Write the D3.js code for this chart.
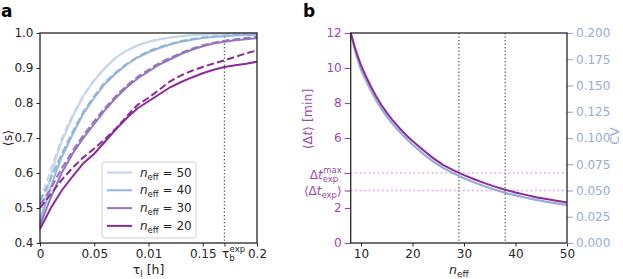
<!DOCTYPE html>
<html><head><meta charset="utf-8">
<script src="https://cdn.jsdelivr.net/npm/d3@7"></script>
<style>
body{margin:0;background:#fff;}
svg{font-family:"DejaVu Sans",sans-serif;}
</style></head>
<body><svg id="c" width="623" height="279"></svg>
<script>
// ---------- Panel a data ----------
const tau = [0,0.005,0.01,0.015,0.02,0.03,0.04,0.05,0.06,0.07,0.08,0.09,0.1,0.11,0.12,0.13,0.14,0.15,0.16,0.17,0.18,0.19,0.2];
const s50 = [0.46,0.53,0.59,0.645,0.69,0.76,0.82,0.865,0.90,0.93,0.95,0.965,0.975,0.982,0.987,0.991,0.994,0.996,0.997,0.998,0.999,0.999,1.0];
const s50d = [0.52,0.565,0.61,0.655,0.698,0.765,0.822,0.866,0.901,0.93,0.95,0.965,0.975,0.982,0.987,0.991,0.994,0.996,0.997,0.998,0.999,0.999,1.0];
const s40 = [0.455,0.51,0.56,0.605,0.645,0.71,0.77,0.815,0.855,0.885,0.91,0.93,0.945,0.957,0.967,0.975,0.981,0.986,0.989,0.991,0.993,0.994,0.995];
const s40d = [0.52,0.55,0.585,0.62,0.655,0.717,0.775,0.82,0.86,0.888,0.912,0.932,0.948,0.96,0.969,0.977,0.983,0.987,0.99,0.992,0.994,0.995,0.996];
const s30 = [0.45,0.49,0.53,0.565,0.60,0.655,0.70,0.74,0.78,0.815,0.845,0.87,0.89,0.91,0.925,0.94,0.952,0.962,0.97,0.975,0.979,0.982,0.985];
const s30d = [0.51,0.53,0.555,0.585,0.613,0.663,0.708,0.748,0.786,0.82,0.85,0.875,0.895,0.914,0.929,0.943,0.955,0.965,0.972,0.978,0.982,0.986,0.989];
const s20 = [0.44,0.47,0.50,0.525,0.55,0.59,0.628,0.655,0.69,0.725,0.757,0.785,0.805,0.825,0.845,0.86,0.873,0.885,0.895,0.903,0.908,0.912,0.918];
const s20d = [0.50,0.52,0.54,0.56,0.58,0.615,0.645,0.67,0.697,0.727,0.762,0.795,0.815,0.838,0.862,0.879,0.892,0.903,0.913,0.922,0.932,0.942,0.95];
const neffLabels = [50,40,30,20];
const colorsA = ["#c3d5e8","#93b3d9","#9475c0","#8b2b98"];
const xTicksA = [0,0.05,0.1,0.15,0.17,0.2];
const xTickLabelsA = ["0","0.05","0.01","0.15","τb","0.2"];
const yTicksA = [0.4,0.5,0.6,0.7,0.8,0.9,1.0];
const tauBexp = 0.17;

// ---------- Panel b data ----------
const neff = [8,9,10,11,12,13,14,15,16,17,18,19,20,22,24,26,28,30,32,34,36,38,40,42,44,46,48,50];
const dt = [12.0,11.0,10.15,9.5,8.9,8.35,7.87,7.45,7.07,6.72,6.4,6.1,5.83,5.33,4.85,4.45,4.15,3.88,3.64,3.42,3.22,3.04,2.89,2.75,2.62,2.51,2.41,2.32];
const cv = [0.2,0.18,0.1650,0.1545,0.1445,0.1355,0.1275,0.1205,0.1143,0.1085,0.1033,0.0983,0.0938,0.0853,0.0776,0.0713,0.0662,0.0617,0.0577,0.0540,0.0507,0.0477,0.0453,0.0431,0.0411,0.0393,0.0377,0.0361];
const xTicksB = [10,20,30,40,50];
const yTicksBLeft = [0,2,3,4,6,8,10,12];
const yTicksBRight = [0,0.025,0.05,0.075,0.1,0.125,0.15,0.175,0.2];
const dtExp = 3, dtExpMax = 4;
const nMarks = [29,38];

const svg = d3.select("#c");
const axisCol = "#262626";
const fs = 12;

// ================= Panel a =================
const A = {l:40,r:257,t:33,b:243};
const xa = d3.scaleLinear().domain([0,0.2]).range([A.l,A.r]);
const ya = d3.scaleLinear().domain([0.4,1.0]).range([A.b,A.t]);
const ga = svg.append("g");

ga.append("line").attr("x1",xa(tauBexp)).attr("x2",xa(tauBexp)).attr("y1",A.t).attr("y2",A.b)
  .attr("stroke","#555").attr("stroke-width",1.3).attr("stroke-dasharray","1.3,2.2");

const lineA = ys => d3.line().x((d,i)=>xa(tau[i])).y(d=>ya(d))(ys);
const solids = [s50,s40,s30,s20], dashes=[s50d,s40d,s30d,s20d];
[0,1,2,3].forEach(i=>{
  ga.append("path").attr("d",lineA(dashes[i])).attr("fill","none").attr("stroke",colorsA[i])
    .attr("stroke-width",2).attr("stroke-dasharray","7.4,3.2");
  ga.append("path").attr("d",lineA(solids[i])).attr("fill","none").attr("stroke",colorsA[i])
    .attr("stroke-width",2);
});

// axes a
const axA_b = ga.append("g").attr("transform",`translate(0,${A.b})`)
  .call(d3.axisBottom(xa).tickValues(xTicksA).tickSize(3.5).tickFormat((d,i)=>xTickLabelsA[i]));
const axA_l = ga.append("g").attr("transform",`translate(${A.l},0)`)
  .call(d3.axisLeft(ya).tickValues(yTicksA).tickSize(3.5).tickFormat(d3.format(".1f")));
[axA_b,axA_l].forEach(a=>{
  a.select(".domain").remove();
  a.selectAll(".tick line").attr("stroke",axisCol).attr("stroke-width",1);
  a.selectAll(".tick text").attr("fill",axisCol).attr("font-size",fs).attr("font-family","DejaVu Sans");
});
axA_b.selectAll(".tick text").attr("dy","0.71em");
// tau_b^exp label with sub/sup
axA_b.selectAll(".tick text").filter((d,i)=>i===4).each(function(){
  const t=d3.select(this); t.text("").attr("text-anchor","start").attr("x",-3);
  t.append("tspan").text("τ");
  t.append("tspan").attr("font-size",8.5).attr("dy",3).text("b");
  t.append("tspan").attr("font-size",8.5).attr("dx",-5).attr("dy",-9).text("exp");
});
ga.append("rect").attr("x",A.l).attr("y",A.t).attr("width",A.r-A.l).attr("height",A.b-A.t)
  .attr("fill","none").attr("stroke",axisCol).attr("stroke-width",1.3);

// labels a
const xl = ga.append("text").attr("x",(A.l+A.r)/2).attr("y",274).attr("text-anchor","middle")
  .attr("font-size",12.5).attr("fill",axisCol);
xl.append("tspan").text("τ");
xl.append("tspan").attr("font-size",9).attr("dy",3).text("l");
xl.append("tspan").attr("dy",-3).text(" [h]");
ga.append("text").attr("transform",`translate(12,${(A.t+A.b)/2}) rotate(-90)`).attr("text-anchor","middle")
  .attr("font-size",12.5).attr("fill",axisCol).text("⟨s⟩");
svg.append("text").attr("x",1).attr("y",17).attr("font-size",17).attr("font-weight","bold")
  .attr("fill","#000").text("a");

// legend
const lg = ga.append("g");
lg.append("rect").attr("x",102).attr("y",162).attr("width",94).attr("height",76).attr("rx",3)
  .attr("fill","#fff").attr("fill-opacity",0.85).attr("stroke","#d0d0d0").attr("stroke-width",1);
neffLabels.forEach((n,i)=>{
  const y = 172.5 + i*17.8;
  lg.append("line").attr("x1",107).attr("x2",132).attr("y1",y).attr("y2",y)
    .attr("stroke",colorsA[i]).attr("stroke-width",2);
  const t = lg.append("text").attr("x",140).attr("y",y+4).attr("font-size",fs).attr("fill",axisCol);
  t.append("tspan").attr("font-style","italic").text("n");
  t.append("tspan").attr("font-size",8.5).attr("dy",3).text("eff");
  t.append("tspan").attr("dy",-3).text(" = "+n);
});

// ================= Panel b =================
const B = {l:350.7,r:567,t:33,b:243};
const xb = d3.scaleLinear().domain([8,50]).range([B.l,B.r]);
const yb = d3.scaleLinear().domain([0,12]).range([B.b,B.t]);
const yb2 = d3.scaleLinear().domain([0,0.2]).range([B.b,B.t]);
const gb = svg.append("g");
const purp = "#8b2b98", purpTxt="#9a47ab", cvCol="#97abd9", pink="#d79be0";

nMarks.forEach(n=>{
  gb.append("line").attr("x1",xb(n)).attr("x2",xb(n)).attr("y1",B.t).attr("y2",B.b)
    .attr("stroke","#555").attr("stroke-width",1.3).attr("stroke-dasharray","1.3,2.2");
});
[dtExpMax,dtExp].forEach(v=>{
  gb.append("line").attr("x1",B.l).attr("x2",B.r).attr("y1",yb(v)).attr("y2",yb(v))
    .attr("stroke",pink).attr("stroke-width",1.5).attr("stroke-dasharray","1.5,3");
});
gb.append("path").attr("d",d3.line().x((d,i)=>xb(neff[i])).y(d=>yb2(d))(cv))
  .attr("fill","none").attr("stroke",cvCol).attr("stroke-width",2.2);
gb.append("path").attr("d",d3.line().x((d,i)=>xb(neff[i])).y(d=>yb(d))(dt))
  .attr("fill","none").attr("stroke",purp).attr("stroke-width",2);

const axB_b = gb.append("g").attr("transform",`translate(0,${B.b})`)
  .call(d3.axisBottom(xb).tickValues(xTicksB).tickSize(3.5));
const axB_l = gb.append("g").attr("transform",`translate(${B.l},0)`)
  .call(d3.axisLeft(yb).tickValues(yTicksBLeft).tickSize(6).tickFormat(d3.format("d")));
const axB_r = gb.append("g").attr("transform",`translate(${B.r},0)`)
  .call(d3.axisRight(yb2).tickValues(yTicksBRight).tickSize(6).tickFormat(d3.format(".3f")));
[axB_b,axB_l,axB_r].forEach(a=>{
  a.select(".domain").remove();
  a.selectAll(".tick text").attr("font-size",fs).attr("font-family","DejaVu Sans");
});
axB_b.selectAll(".tick line").attr("stroke",axisCol);
axB_b.selectAll(".tick text").attr("fill",axisCol).attr("dy","0.71em");
axB_l.selectAll(".tick line").attr("stroke",purpTxt).attr("stroke-width",1.2);
axB_l.selectAll(".tick text").attr("fill",purpTxt).attr("x",-9);
axB_r.selectAll(".tick line").attr("stroke",cvCol).attr("stroke-width",1.2);
axB_r.selectAll(".tick text").attr("fill",cvCol).attr("x",9);
// special tick labels
axB_l.selectAll(".tick text").filter(d=>d===dtExpMax).each(function(){
  const t=d3.select(this); t.text("");
  t.append("tspan").text("Δ");
  t.append("tspan").attr("font-style","italic").text("t");
  t.append("tspan").attr("font-size",8.5).attr("dy",3).text("exp");
  t.append("tspan").attr("font-size",8.5).attr("dx",-15).attr("dy",-9).text("max");
}).attr("dy","0.45em");
axB_l.selectAll(".tick text").filter(d=>d===dtExp).each(function(){
  const t=d3.select(this); t.text("");
  t.append("tspan").text("⟨Δ");
  t.append("tspan").attr("font-style","italic").text("t");
  t.append("tspan").attr("font-size",8.5).attr("dy",3).text("exp");
  t.append("tspan").attr("dy",-3).text("⟩");
}).attr("dy","0.3em");

gb.append("rect").attr("x",B.l).attr("y",B.t).attr("width",B.r-B.l).attr("height",B.b-B.t)
  .attr("fill","none").attr("stroke",axisCol).attr("stroke-width",1.3);

const xlb = gb.append("text").attr("x",(B.l+B.r)/2).attr("y",274).attr("text-anchor","middle")
  .attr("font-size",12.5).attr("fill",axisCol);
xlb.append("tspan").attr("font-style","italic").text("n");
xlb.append("tspan").attr("font-size",9).attr("dy",3).text("eff");
const yl = gb.append("text").attr("transform",`translate(312,119) rotate(-90)`).attr("text-anchor","middle")
  .attr("font-size",12.5).attr("fill",purpTxt);
yl.append("tspan").text("⟨Δ");
yl.append("tspan").attr("font-style","italic").text("t");
yl.append("tspan").text("⟩ [min]");
gb.append("text").attr("transform",`translate(619,136) rotate(-90)`).attr("text-anchor","middle")
  .attr("font-size",12.5).attr("fill",cvCol).text("CV");
svg.append("text").attr("x",303).attr("y",17).attr("font-size",17).attr("font-weight","bold")
  .attr("fill","#000").text("b");
</script></body></html>
